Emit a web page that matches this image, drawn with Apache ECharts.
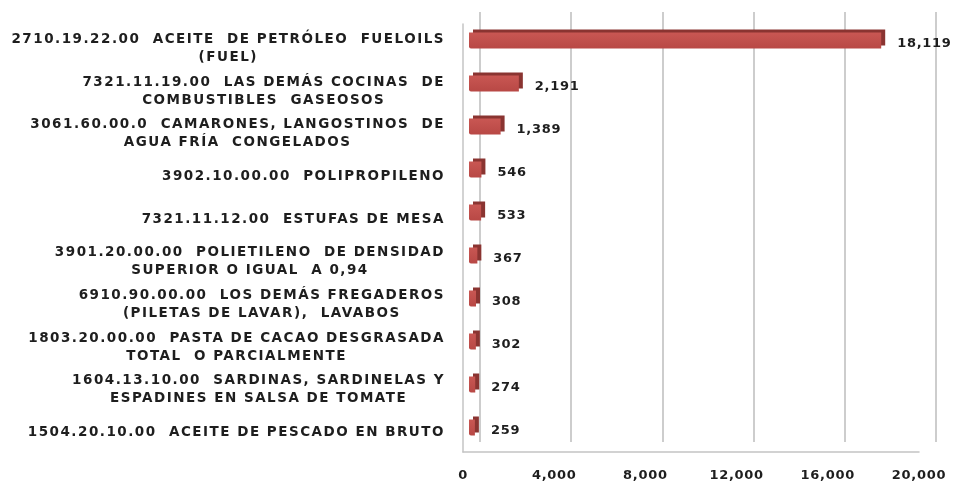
<!DOCTYPE html>
<html>
<head>
<meta charset="utf-8">
<script src="https://cdn.jsdelivr.net/npm/echarts@6/dist/echarts.min.js"></script>
<style>
html,body{margin:0;padding:0;background:#fff;}
#c{width:958px;height:490px;background:#fff;}
</style>
</head>
<body>
<div id="c"></div>
<script>
const categories = [
  ["2710.19.22.00  ACEITE  DE PETRÓLEO  FUELOILS", "(FUEL)"],
  ["7321.11.19.00  LAS DEMÁS COCINAS  DE", "COMBUSTIBLES  GASEOSOS"],
  ["3061.60.00.0  CAMARONES, LANGOSTINOS  DE", "AGUA FRÍA  CONGELADOS"],
  ["3902.10.00.00  POLIPROPILENO"],
  ["7321.11.12.00  ESTUFAS DE MESA"],
  ["3901.20.00.00  POLIETILENO  DE DENSIDAD", "SUPERIOR O IGUAL  A 0,94"],
  ["6910.90.00.00  LOS DEMÁS FREGADEROS", "(PILETAS DE LAVAR),  LAVABOS"],
  ["1803.20.00.00  PASTA DE CACAO DESGRASADA", "TOTAL  O PARCIALMENTE"],
  ["1604.13.10.00  SARDINAS, SARDINELAS Y", "ESPADINES EN SALSA DE TOMATE"],
  ["1504.20.10.00  ACEITE DE PESCADO EN BRUTO"]
];
const values = [18119, 2191, 1389, 546, 533, 367, 308, 302, 274, 259];
const xTicks = [0, 4000, 8000, 12000, 16000, 20000];

const FONT = '"DejaVu Sans", sans-serif';
const FS_CAT = 13.5;
const FS_NUM = 13;
// widen letters a little (the reference text is set very wide)
(function () {
  const proto = CanvasRenderingContext2D.prototype;
  if (!('letterSpacing' in proto)) return;
  const oF = proto.fillText, oM = proto.measureText, oS = proto.strokeText;
  function ls(c) {
    const f = c.font || '';
    c.letterSpacing = f.indexOf('13.5px') >= 0 ? '1.5px' : (f.indexOf('DejaVu') >= 0 ? '0.7px' : '0px');
  }
  proto.fillText = function () { ls(this); return oF.apply(this, arguments); };
  proto.strokeText = function () { ls(this); return oS.apply(this, arguments); };
  proto.measureText = function () { ls(this); return oM.apply(this, arguments); };
})();

const canvas = document.createElement('canvas');
const ctx = canvas.getContext('2d');
ctx.font = 'bold ' + FS_CAT + 'px ' + FONT;

const catKeys = categories.map((c, i) => 'c' + i);
const rich = { t: { fontFamily: FONT, fontWeight: 'bold', fontSize: FS_CAT, color: '#1e1e1e', lineHeight: 18 } };
categories.forEach((c, i) => {
  if (c.length > 1) {
    const w1 = ctx.measureText(c[0]).width;
    const w2 = ctx.measureText(c[1]).width;
    rich['s' + i] = { width: Math.max(0, (w1 - w2) / 2), fontSize: FS_CAT, lineHeight: 18, fontFamily: FONT };
  }
});
function catLabel(key) {
  const i = catKeys.indexOf(key);
  const c = categories[i];
  if (c.length === 1) return '{t|' + c[0] + '}';
  return '{t|' + c[0] + '}\n{t|' + c[1] + '}{s' + i + '|\u00a0}';
}

const chart = echarts.init(document.getElementById('c'), null, { renderer: 'canvas' });
chart.setOption({
  backgroundColor: '#ffffff',
  animation: false,
  grid: [
    { left: 480, right: 22, top: 12, bottom: 48 },   // back wall (gridlines)
    { left: 463, right: 39, top: 24, bottom: 38 },   // front (floor / x labels)
    { left: 469, right: 34, top: 19, bottom: 41 },   // bars
    { left: 463, right: 39, top: 27, bottom: 36 }    // category labels
  ],
  xAxis: [
    { gridIndex: 0, type: 'value', min: xTicks[0], max: xTicks[xTicks.length - 1], interval: xTicks[1] - xTicks[0],
      axisLine: { show: false }, axisTick: { show: false }, axisLabel: { show: false },
      splitLine: { show: true, lineStyle: { color: '#bdbdbd', width: 1.5 } } },
    { gridIndex: 1, type: 'value', min: xTicks[0], max: xTicks[xTicks.length - 1], interval: xTicks[1] - xTicks[0],
      axisLine: { show: true, lineStyle: { color: '#c4c4c4', width: 1.5 } }, axisTick: { show: false },
      splitLine: { show: false },
      axisLabel: { margin: 17, fontFamily: FONT, fontWeight: 'bold', fontSize: FS_NUM, color: '#1e1e1e',
        formatter: v => v.toLocaleString('en-US') } },
    { gridIndex: 2, type: 'value', min: xTicks[0], max: xTicks[xTicks.length - 1], show: false },
    { gridIndex: 3, type: 'value', min: xTicks[0], max: xTicks[xTicks.length - 1], show: false }
  ],
  yAxis: [
    { gridIndex: 0, type: 'category', data: catKeys, inverse: true, show: false },
    { gridIndex: 1, type: 'category', data: catKeys, inverse: true,
      axisLine: { show: true, lineStyle: { color: '#c4c4c4', width: 1.5 } }, axisTick: { show: false },
      axisLabel: { show: false }, splitLine: { show: false } },
    { gridIndex: 2, type: 'category', data: catKeys, inverse: true, show: false },
    { gridIndex: 3, type: 'category', data: catKeys, inverse: true,
      axisLine: { show: false }, axisTick: { show: false }, splitLine: { show: false },
      axisLabel: { margin: 18, formatter: catLabel, rich: rich } }
  ],
  series: [{
    type: 'bar',
    xAxisIndex: 2, yAxisIndex: 2,
    data: values,
    barWidth: 16,
    itemStyle: {
      color: new echarts.graphic.LinearGradient(0, 0, 0, 1, [
        { offset: 0, color: '#c95753' },
        { offset: 1, color: '#b84845' }
      ]),
      borderRadius: [0, 0, 0, 2],
      shadowColor: '#8a3431',
      shadowBlur: 0,
      shadowOffsetX: 4,
      shadowOffsetY: -3
    },
    label: {
      show: true, position: 'right', distance: 16, offset: [0, 3],
      fontFamily: FONT, fontWeight: 'bold', fontSize: FS_NUM, color: '#1e1e1e',
      formatter: p => p.value.toLocaleString('en-US')
    }
  }]
});
</script>
</body>
</html>
